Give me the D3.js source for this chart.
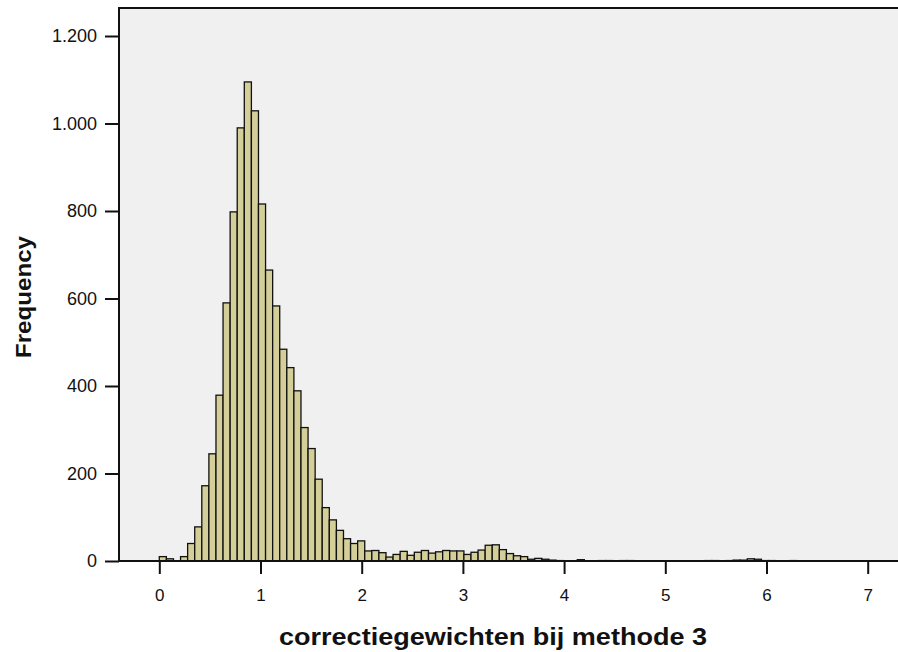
<!DOCTYPE html>
<html>
<head>
<meta charset="utf-8">
<script src="https://cdn.jsdelivr.net/npm/d3@7"></script>
<style>
  html, body { margin: 0; padding: 0; background: #fff; }
  svg { display: block; font-family: "Liberation Sans", Arial, sans-serif; }
</style>
</head>
<body>
<svg id="chart" width="898" height="652"></svg>
<script>
// Histogram of correction weights: 100 bins of width 0.07 starting at 0
const binStart = 0;
const binWidth = 0.07;
const counts = [
  10, 5, 0, 10, 40, 78, 172, 245, 379, 590,
  798, 990, 1095, 1029, 816, 665, 583, 484, 442, 389,
  305, 257, 187, 122, 94, 70, 51, 40, 46, 23,
  24, 19, 9, 15, 22, 13, 20, 24, 18, 21,
  24, 23, 23, 15, 20, 25, 36, 37, 26, 17,
  12, 10, 4, 6, 4, 2, 1, 0, 0, 3,
  0, 0, 1, 1, 0, 1, 1, 0, 0, 0,
  0, 0, 0, 0, 0, 0, 0, 1, 1, 0,
  1, 2, 2, 5, 4, 1, 1, 0, 0, 1
];
const xTicks = [0, 1, 2, 3, 4, 5, 6, 7];
const yTicks = [0, 200, 400, 600, 800, 1000, 1200];
const xTitle = "correctiegewichten bij methode 3";
const yTitle = "Frequency";

const bins = counts.map((c, i) => ({
  x0: binStart + i * binWidth,
  x1: binStart + (i + 1) * binWidth,
  count: c
}));

const svg = d3.select("#chart");
const plot = { left: 119, top: 8, right: 898, bottom: 561 };

const x = d3.scaleLinear().domain([0, 7]).range([159.3, 867.7]);
const y = d3.scaleLinear().domain([0, 1200]).range([561, 36]);

// plot background
svg.append("rect")
  .attr("x", plot.left).attr("y", plot.top)
  .attr("width", plot.right - plot.left + 10)
  .attr("height", plot.bottom - plot.top)
  .attr("fill", "#f0f0f0");

// bars
svg.append("g")
  .selectAll("rect")
  .data(bins.filter(d => d.count > 0))
  .join("rect")
  .attr("x", d => x(d.x0))
  .attr("y", d => y(d.count))
  .attr("width", d => x(d.x1) - x(d.x0))
  .attr("height", d => y(0) - y(d.count))
  .attr("fill", "#d4cf99")
  .attr("stroke", "#111")
  .attr("stroke-width", 1.3);

// frame: top and left edges
svg.append("path")
  .attr("d", `M${plot.left},${plot.bottom} V${plot.top} H${plot.right + 10}`)
  .attr("fill", "none")
  .attr("stroke", "#111")
  .attr("stroke-width", 2);

// y axis
const yAxis = d3.axisLeft(y)
  .tickValues(yTicks)
  .tickSize(14)
  .tickPadding(8)
  .tickFormat(d => d3.format(",")(d).replace(/,/g, "."));
const gy = svg.append("g")
  .attr("transform", `translate(${plot.left},0)`)
  .call(yAxis);
gy.select(".domain").remove();
gy.selectAll(".tick line").attr("stroke", "#111").attr("stroke-width", 2);
gy.selectAll(".tick text")
  .attr("fill", "#111")
  .style("font-size", "18px");

// x axis
const xAxis = d3.axisBottom(x)
  .tickValues(xTicks)
  .tickSize(13)
  .tickPadding(15)
  .tickFormat(d3.format("d"));
const gx = svg.append("g")
  .attr("transform", `translate(0,${plot.bottom})`)
  .call(xAxis);
gx.select(".domain").remove();
gx.selectAll(".tick line").attr("stroke", "#111").attr("stroke-width", 2);
gx.selectAll(".tick text")
  .attr("fill", "#111")
  .style("font-size", "17px");

// baseline
svg.append("line")
  .attr("x1", plot.left).attr("x2", plot.right + 10)
  .attr("y1", plot.bottom).attr("y2", plot.bottom)
  .attr("stroke", "#111").attr("stroke-width", 2.2);

// axis titles
svg.append("text")
  .attr("x", 493).attr("y", 645)
  .attr("text-anchor", "middle")
  .attr("font-weight", "bold")
  .attr("font-size", 24)
  .attr("textLength", 428)
  .attr("lengthAdjust", "spacingAndGlyphs")
  .attr("fill", "#111")
  .text(xTitle);

svg.append("text")
  .attr("transform", "translate(31,297) rotate(-90)")
  .attr("text-anchor", "middle")
  .attr("font-weight", "bold")
  .attr("font-size", 22)
  .attr("textLength", 122)
  .attr("lengthAdjust", "spacingAndGlyphs")
  .attr("fill", "#111")
  .text(yTitle);
</script>
</body>
</html>
